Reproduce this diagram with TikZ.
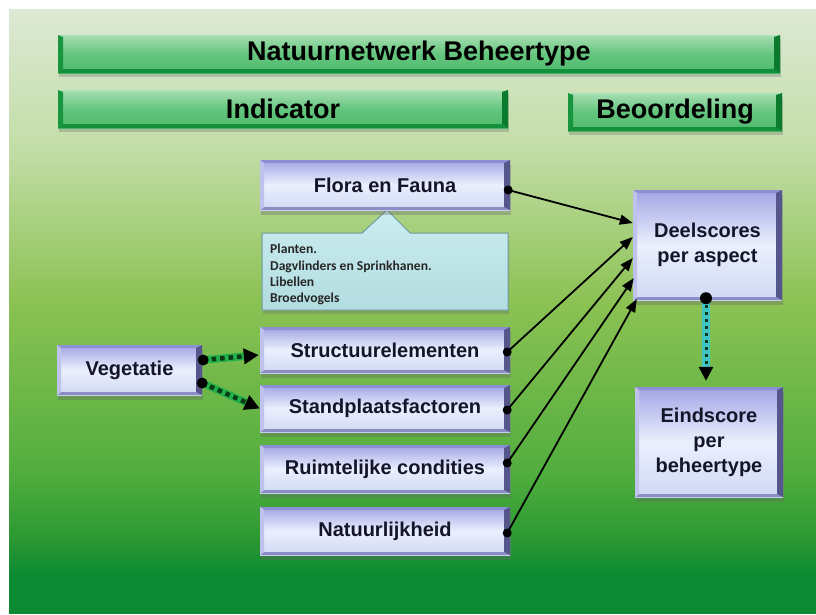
\documentclass[tikz,border=0pt]{standalone}
\usepackage{fontspec}
\setmainfont{Liberation Sans}
\newfontfamily\calloutfont{Carlito}
\usetikzlibrary{arrows.meta,calc,shadows}
\definecolor{bgA}{HTML}{DDE9D5}
\definecolor{bgB}{HTML}{C2DDA6}
\definecolor{bgC}{HTML}{8CC254}
\definecolor{bgD}{HTML}{52AE3E}
\definecolor{bgE}{HTML}{2A9832}
\definecolor{bgF}{HTML}{0B8A33}
\definecolor{gLeft}{HTML}{17963F}
\definecolor{gDark}{HTML}{0A7A2C}
\definecolor{gTopE}{HTML}{A8E2B4}
\definecolor{gBotE}{HTML}{12903A}
\definecolor{gTop}{HTML}{A6DEB2}
\definecolor{gMid}{HTML}{64C67E}
\definecolor{gBot}{HTML}{4FBA6C}
\definecolor{bTopE}{HTML}{8D8FD4}
\definecolor{bBotE}{HTML}{8A8EC4}
\definecolor{bLeftE}{HTML}{BEC2EC}
\definecolor{bDark}{HTML}{55578C}
\definecolor{bTop}{HTML}{A2A4E4}
\definecolor{bMid}{HTML}{EAF0FD}
\definecolor{bBot}{HTML}{D0D8F4}
\definecolor{cTop}{HTML}{CBEDF0}
\definecolor{cBot}{HTML}{B2DCE0}
\definecolor{cLine}{HTML}{6F9AA0}
\definecolor{vGreen}{HTML}{22B04A}
\definecolor{vDot}{HTML}{0B3A14}
\definecolor{tTeal}{HTML}{3EC4C4}
\definecolor{txt}{HTML}{15152A}
\tikzset{
  greenbox/.style={top color=gTop, bottom color=gBot, middle color=gMid, draw=none,
    inner sep=0pt, text=black,
    font=\bfseries\fontsize{27}{32}\selectfont,
    drop shadow={shadow xshift=1pt, shadow yshift=-4pt, fill=black!60, opacity=0.3},
    path picture={
      \fill[gTopE] (path picture bounding box.north west) -- (path picture bounding box.north east)
        -- ++(-6pt,-2pt) -- ([shift={(5pt,-2pt)}]path picture bounding box.north west) -- cycle;
      \fill[gBotE] (path picture bounding box.south west) -- (path picture bounding box.south east)
        -- ++(-6pt,4pt) -- ([shift={(5pt,4pt)}]path picture bounding box.south west) -- cycle;
      \fill[gLeft] (path picture bounding box.south west) -- (path picture bounding box.north west)
        -- ++(5pt,-2pt) -- ([shift={(5pt,4pt)}]path picture bounding box.south west) -- cycle;
      \fill[gDark] (path picture bounding box.south east) -- (path picture bounding box.north east)
        -- ++(-6pt,-2pt) -- ([shift={(-6pt,4pt)}]path picture bounding box.south east) -- cycle;
    }},
  bluebox/.style={top color=bTop, bottom color=bBot, middle color=bMid, draw=none,
    inner sep=0pt, text=txt, align=center,
    font=\bfseries\fontsize{20}{25}\selectfont,
    drop shadow={shadow xshift=1pt, shadow yshift=-5pt, fill=black!60, opacity=0.35},
    path picture={
      \fill[bTopE] (path picture bounding box.north west) -- (path picture bounding box.north east)
        -- ++(-6pt,-3pt) -- ([shift={(4pt,-3pt)}]path picture bounding box.north west) -- cycle;
      \fill[bBotE] (path picture bounding box.south west) -- (path picture bounding box.south east)
        -- ++(-6pt,3pt) -- ([shift={(4pt,3pt)}]path picture bounding box.south west) -- cycle;
      \fill[bLeftE] (path picture bounding box.south west) -- (path picture bounding box.north west)
        -- ++(4pt,-3pt) -- ([shift={(4pt,3pt)}]path picture bounding box.south west) -- cycle;
      \fill[bDark] (path picture bounding box.south east) -- (path picture bounding box.north east)
        -- ++(-6pt,-3pt) -- ([shift={(-6pt,3pt)}]path picture bounding box.south east) -- cycle;
    }},
  conn/.style={draw=black, line width=1.8pt, -{Triangle[length=13pt,width=10pt]}},
  vegarrow/.style={draw=vDot, line width=4.5pt, dash pattern=on 4.5pt off 4pt,
    -{Triangle[length=15pt,width=15pt,color=black]},
    preaction={draw=vGreen, line width=7.5pt, solid, -, shorten >=8pt}},
  tealarrow/.style={draw=vDot, line width=3pt, dash pattern=on 3pt off 4pt,
    -{Triangle[length=14pt,width=14pt,color=black]},
    preaction={draw=tTeal, line width=8pt, solid, -, shorten >=8pt}},
  dotmark/.style={fill=black}
}
\begin{document}
\begin{tikzpicture}[x=1pt,y=-1pt]
\useasboundingbox (0,0) rectangle (816,614);
\fill[white] (0,0) rectangle (816,614);
% background
\shade[top color=bgA, bottom color=bgB] (9,9) rectangle (816,151);
\shade[top color=bgB, bottom color=bgC] (9,150) rectangle (816,301);
\shade[top color=bgC, bottom color=bgD] (9,300) rectangle (816,471);
\shade[top color=bgD, bottom color=bgE] (9,470) rectangle (816,541);
\shade[top color=bgE, bottom color=bgF] (9,540) rectangle (816,576);
\fill[bgF] (9,575) rectangle (816,614);

% header boxes
\node[greenbox, minimum width=722pt, minimum height=38pt] (title) at (419,54) {Natuurnetwerk Beheertype};
\node[greenbox, minimum width=450pt, minimum height=38pt] (indicator) at (283,109) {Indicator};
\node[greenbox, minimum width=214pt, minimum height=38pt] (beoord) at (675,112) {Beoordeling};

% callout
\path[fill=cTop, drop shadow={shadow xshift=1pt, shadow yshift=-4pt, fill=black!60, opacity=0.3}]
  (262,233) -- (362,233) -- (387,210) -- (410,233) -- (508,233) -- (508,310) -- (262,310) -- cycle;
\shade[top color=cTop, bottom color=cBot, draw=cLine, line width=1pt]
  (262,233) -- (362,233) -- (387,210) -- (410,233) -- (508,233) -- (508,310) -- (262,310) -- cycle;
\node[anchor=north west, inner sep=0pt, align=left, text=black!85,
  font=\calloutfont\bfseries\fontsize{13.6}{16.4}\selectfont] (species) at (270,244)
  {Planten.\\Dagvlinders en Sprinkhanen.\\Libellen\\Broedvogels};

% blue boxes
\node[bluebox, minimum width=250pt, minimum height=50pt] (flora) at (385,185) {Flora en Fauna};
\node[bluebox, minimum width=250pt, minimum height=46pt] (struct) at (385,350) {Structuurelementen};
\node[bluebox, minimum width=250pt, minimum height=47pt] (stand) at (385,408.5) {Standplaatsfactoren};
\node[bluebox, minimum width=250pt, minimum height=48pt] (ruimt) at (385,469) {Ruimtelijke condities};
\node[bluebox, minimum width=250pt, minimum height=48pt] (natuur) at (385,531) {Natuurlijkheid};
\node[bluebox, minimum width=145pt, minimum height=50pt] (veget) at (129.5,370) {Vegetatie};
\node[bluebox, minimum width=149pt, minimum height=110pt] (deel) at (707.5,245) {Deelscores\\per aspect};
\node[bluebox, minimum width=148pt, minimum height=110pt] (eind) at (709,442) {Eindscore\\per\\beheertype};

% connector end points
\coordinate (f0) at ($(flora.east)+(-2,5)$);
\coordinate (s0) at ($(struct.east)+(-3,2)$);
\coordinate (p0) at ($(stand.east)+(-3,1.5)$);
\coordinate (r0) at ($(ruimt.east)+(-3,-6)$);
\coordinate (n0) at ($(natuur.east)+(-3,2)$);
\coordinate (d1) at ($(deel.west)+(0,-22)$);
\coordinate (d2) at ($(deel.west)+(0,-8)$);
\coordinate (d3) at ($(deel.west)+(0,13)$);
\coordinate (d4) at ($(deel.west)+(1,33)$);
\coordinate (d5) at ($(deel.west)+(4,54)$);
\coordinate (v1) at ($(veget.east)+(1,-10)$);
\coordinate (v2) at ($(veget.east)+(0,13)$);
\coordinate (s1) at ($(struct.west)+(-1,5)$);
\coordinate (p1) at ($(stand.west)+(0,0)$);
\coordinate (e0) at ($(deel.south)+(-1.5,-2)$);
\coordinate (e1) at ($(eind.north)+(-3,-6)$);

% connectors
\draw[conn] (f0) -- (d1);
\draw[conn] (s0) -- (d2);
\draw[conn] (p0) -- (d3);
\draw[conn] (r0) -- (d4);
\draw[conn] (n0) -- (d5);
\foreach \c in {f0,s0,p0,r0,n0} \fill[dotmark] (\c) circle (4.5pt);

\draw[vegarrow] (v1) -- (s1);
\draw[vegarrow] (v2) -- (p1);
\fill[dotmark] (v1) circle (5.5pt);
\fill[dotmark] (v2) circle (5.5pt);

\draw[tealarrow] (e0) -- (e1);
\fill[dotmark] (e0) circle (6pt);
\end{tikzpicture}
\end{document}
